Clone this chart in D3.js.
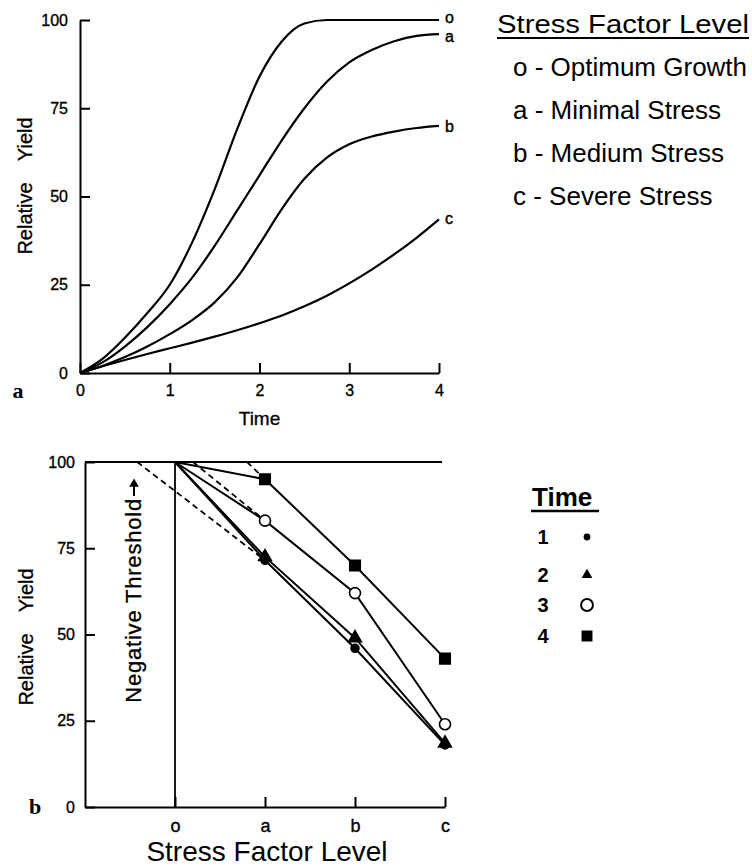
<!DOCTYPE html>
<html>
<head>
<meta charset="utf-8">
<script src="https://cdn.jsdelivr.net/npm/d3@7"></script>
<style>
  body { margin: 0; background: #fff; }
  svg { display: block; font-family: "Liberation Sans", Arial, sans-serif; }
  .axis path, .axis line { stroke: #000; stroke-width: 2; }
  .axis text { font-size: 16px; fill: #000; stroke: #000; stroke-width: 0.35; }
</style>
</head>
<body>
<div id="chart"></div>
<script>
// growth over time for each stress level
const timeSteps = [0, 0.25, 0.5, 0.75, 1, 1.25, 1.5, 1.75, 2, 2.25, 2.5, 2.75, 3, 3.25, 3.5, 3.75, 4];
const growthO = [0, 4, 10, 17, 25, 37, 52, 69, 84, 94, 99, 100, 100, 100, 100, 100, 100];
const growthA = [0, 3, 7.5, 13, 19.5, 27, 36, 46, 56, 66, 75, 82.5, 88, 91.5, 94, 95.5, 96];
const growthB = [0, 2, 4.5, 7.5, 11, 15, 20, 27, 36.5, 46.5, 55, 61, 64.8, 67, 68.4, 69.4, 70];
const growthC = [0, 1.9, 3.7, 5.4, 7, 8.6, 10.3, 12.1, 14.1, 16.3, 18.9, 21.9, 25.4, 29.3, 33.6, 38.3, 43.5];
const curveKeys = ['o', 'a', 'b', 'c'];
const timeTicks = [0, 1, 2, 3, 4];
const yieldTicks = [0, 25, 50, 75, 100];

// yield vs stress level at each time
const stressLevels = ['o', 'a', 'b', 'c'];
const yieldT1 = [100, 71.5, 46, 18];
const yieldT2 = [100, 72.5, 49, 18.5];
const yieldT3 = [100, 83, 62, 24];
const yieldT4 = [100, 95, 70, 43];
const timeLabels = ['1', '2', '3', '4'];

// dashed threshold lines: start on the 100 line, end at level "a" of a series
const thresholdStart = [-0.42, 0.2, 0.8];
const thresholdEnd = [yieldT1[1], yieldT3[1], yieldT4[1]];

const legendLabels = ['o - Optimum Growth', 'a - Minimal Stress', 'b - Medium Stress', 'c - Severe Stress'];

const w = 752;
const h = 866;

const svg = d3.select('#chart')
    .append('svg')
    .attr('width', w)
    .attr('height', h);

// ---------- panel a ----------
const xTime = d3.scaleLinear().domain([0, 4]).range([80, 439]);
const yTop = d3.scaleLinear().domain([0, 100]).range([373, 20]);

svg.append('g')
    .attr('class', 'axis')
    .attr('transform', `translate(0,${yTop(0)})`)
    .call(d3.axisBottom(xTime).tickValues(timeTicks).tickFormat(d3.format('d'))
        .tickSize(-10).tickSizeOuter(0).tickPadding(12));

svg.append('g')
    .attr('class', 'axis')
    .attr('transform', `translate(${xTime(0)},0)`)
    .call(d3.axisLeft(yTop).tickValues(yieldTicks)
        .tickSize(-10).tickSizeOuter(0).tickPadding(12));

const growthLine = d3.line()
    .x((d, i) => xTime(timeSteps[i]))
    .y(d => yTop(d))
    .curve(d3.curveMonotoneX);

const growth = [growthO, growthA, growthB, growthC];

svg.append('g')
    .selectAll('path')
    .data(growth)
    .enter()
    .append('path')
    .attr('d', growthLine)
    .attr('fill', 'none')
    .attr('stroke', '#000')
    .attr('stroke-width', 2.2);

// curve end labels, the top two nudged apart
const labelShift = [-3, 2, 1, -1];
svg.append('g')
    .selectAll('text')
    .data(growth)
    .enter()
    .append('text')
    .attr('x', xTime(4) + 6)
    .attr('y', (d, i) => yTop(d[d.length - 1]) + labelShift[i])
    .attr('dominant-baseline', 'central')
    .attr('font-size', 16)
    .attr('stroke', '#000')
    .attr('stroke-width', 0.4)
    .text((d, i) => curveKeys[i]);

svg.append('text')
    .attr('x', 32)
    .attr('y', 186)
    .attr('transform', 'rotate(-90,32,186)')
    .attr('text-anchor', 'middle')
    .attr('font-size', 20)
    .attr('word-spacing', 16)
    .attr('stroke', '#000')
    .attr('stroke-width', 0.3)
    .text('Relative Yield');

svg.append('text')
    .attr('x', (xTime(0) + xTime(4)) / 2)
    .attr('y', 425)
    .attr('text-anchor', 'middle')
    .attr('font-size', 19)
    .attr('stroke', '#000')
    .attr('stroke-width', 0.3)
    .text('Time');

svg.append('text')
    .attr('x', 18)
    .attr('y', 398)
    .attr('text-anchor', 'middle')
    .attr('font-family', '"Liberation Serif", serif')
    .attr('font-weight', 'bold')
    .attr('font-size', 22)
    .text('a');

// legend for stress levels
const legendTop = svg.append('g');
legendTop.append('text')
    .attr('x', 497)
    .attr('y', 33)
    .attr('font-size', 26)
    .attr('textLength', 252)
    .attr('lengthAdjust', 'spacingAndGlyphs')
    .text('Stress Factor Level');
legendTop.append('line')
    .attr('x1', 497).attr('x2', 749)
    .attr('y1', 38).attr('y2', 38)
    .attr('stroke', '#000').attr('stroke-width', 2);

legendTop.selectAll('text.item')
    .data(legendLabels)
    .enter()
    .append('text')
    .attr('class', 'item')
    .attr('x', 513)
    .attr('y', (d, i) => 76 + i * 43)
    .attr('font-size', 26)
    .text(d => d);

// ---------- panel b ----------
const xStress = d3.scaleLinear().domain([-1, 3]).range([85, 445]);
const yBot = d3.scaleLinear().domain([0, 100]).range([807, 462]);

svg.append('g')
    .attr('class', 'axis')
    .attr('transform', `translate(0,${yBot(0)})`)
    .call(d3.axisBottom(xStress).tickValues([0, 1, 2, 3]).tickFormat(i => stressLevels[i])
        .tickSize(-10).tickSizeOuter(0).tickPadding(12))
    .selectAll('text')
    .style('font-size', '18px');

svg.append('g')
    .attr('class', 'axis')
    .attr('transform', `translate(${xStress(-1)},0)`)
    .call(d3.axisLeft(yBot).tickValues(yieldTicks)
        .tickSize(-10).tickSizeOuter(0).tickPadding(10));

// full yield line and the zero-stress line
svg.append('line')
    .attr('x1', xStress(-1)).attr('x2', xStress(3) - 3)
    .attr('y1', yBot(100)).attr('y2', yBot(100))
    .attr('stroke', '#000').attr('stroke-width', 2);
svg.append('line')
    .attr('x1', xStress(0)).attr('x2', xStress(0))
    .attr('y1', yBot(0)).attr('y2', yBot(100))
    .attr('stroke', '#000').attr('stroke-width', 1.8);

svg.append('g')
    .selectAll('line')
    .data(thresholdStart)
    .enter()
    .append('line')
    .attr('x1', d => xStress(d))
    .attr('y1', yBot(100))
    .attr('x2', xStress(1))
    .attr('y2', (d, i) => yBot(thresholdEnd[i]))
    .attr('stroke', '#000')
    .attr('stroke-width', 1.8)
    .attr('stroke-dasharray', '6,4');

const series = [yieldT1, yieldT2, yieldT3, yieldT4];
const stressLine = d3.line()
    .x((d, i) => xStress(i))
    .y(d => yBot(d));

svg.append('g')
    .selectAll('path')
    .data(series)
    .enter()
    .append('path')
    .attr('d', stressLine)
    .attr('fill', 'none')
    .attr('stroke', '#000')
    .attr('stroke-width', 2);

const symbols = [
    { type: d3.symbolCircle, size: 50, fill: '#000' },
    { type: d3.symbolTriangle, size: 70, fill: '#000' },
    { type: d3.symbolCircle, size: 95, fill: '#fff' },
    { type: d3.symbolSquare, size: 110, fill: '#000' }
];

series.forEach((values, s) => {
    svg.append('g')
        .selectAll('path')
        .data(values.slice(1))
        .enter()
        .append('path')
        .attr('transform', (d, i) => `translate(${xStress(i + 1)},${yBot(d)})`)
        .attr('d', d3.symbol().type(symbols[s].type).size(symbols[s].size))
        .attr('fill', symbols[s].fill)
        .attr('stroke', '#000')
        .attr('stroke-width', 1.6);
});

// threshold annotation
svg.append('text')
    .attr('x', 141)
    .attr('y', 498)
    .attr('transform', 'rotate(-90,141,498)')
    .attr('text-anchor', 'end')
    .attr('font-size', 22)
    .attr('letter-spacing', 0.8)
    .attr('stroke', '#000')
    .attr('stroke-width', 0.3)
    .text('Negative Threshold');
svg.append('line')
    .attr('x1', 134).attr('x2', 134)
    .attr('y1', 496).attr('y2', 486)
    .attr('stroke', '#000').attr('stroke-width', 2);
svg.append('path')
    .attr('d', d3.symbol().type(d3.symbolTriangle).size(40))
    .attr('transform', 'translate(134,484)');

svg.append('text')
    .attr('x', 33)
    .attr('y', 637)
    .attr('transform', 'rotate(-90,33,637)')
    .attr('text-anchor', 'middle')
    .attr('font-size', 20)
    .attr('word-spacing', 16)
    .attr('stroke', '#000')
    .attr('stroke-width', 0.3)
    .text('Relative Yield');

svg.append('text')
    .attr('x', (xStress(-1) + xStress(3)) / 2 + 2)
    .attr('y', 861)
    .attr('text-anchor', 'middle')
    .attr('font-size', 28)
    .text('Stress Factor Level');

svg.append('text')
    .attr('x', 35)
    .attr('y', 814)
    .attr('text-anchor', 'middle')
    .attr('font-family', '"Liberation Serif", serif')
    .attr('font-weight', 'bold')
    .attr('font-size', 22)
    .text('b');

// legend for time
const legendBot = svg.append('g');
legendBot.append('text')
    .attr('x', 532)
    .attr('y', 506)
    .attr('font-size', 26)
    .attr('font-weight', 'bold')
    .text('Time');
legendBot.append('line')
    .attr('x1', 531).attr('x2', 599)
    .attr('y1', 511).attr('y2', 511)
    .attr('stroke', '#000').attr('stroke-width', 2.5);

const legendRowY = [537, 575, 605, 636];
legendBot.selectAll('text.num')
    .data(timeLabels)
    .enter()
    .append('text')
    .attr('class', 'num')
    .attr('x', 543)
    .attr('y', (d, i) => legendRowY[i] + 7)
    .attr('text-anchor', 'middle')
    .attr('font-size', 20)
    .attr('font-weight', 'bold')
    .text(d => d);

const legendSymbols = [
    { type: d3.symbolCircle, size: 36, fill: '#000' },
    { type: d3.symbolTriangle, size: 50, fill: '#000' },
    { type: d3.symbolCircle, size: 110, fill: '#fff' },
    { type: d3.symbolSquare, size: 120, fill: '#000' }
];
legendBot.selectAll('path')
    .data(legendSymbols)
    .enter()
    .append('path')
    .attr('transform', (d, i) => `translate(587,${legendRowY[i]})`)
    .attr('d', d => d3.symbol().type(d.type).size(d.size)())
    .attr('fill', d => d.fill)
    .attr('stroke', '#000')
    .attr('stroke-width', (d, i) => i === 2 ? 2 : 0);
</script>
</body>
</html>
